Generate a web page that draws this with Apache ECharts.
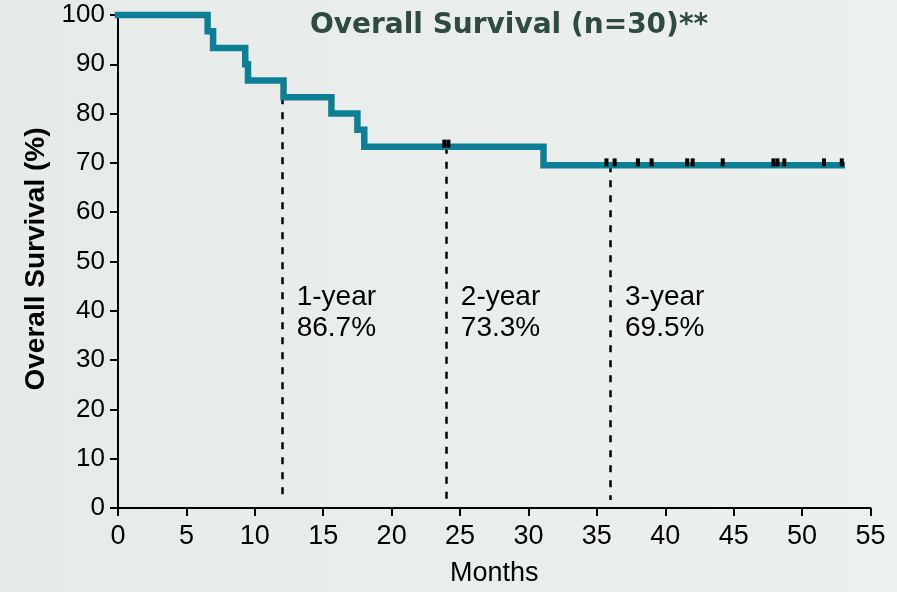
<!DOCTYPE html>
<html>
<head>
<meta charset="utf-8">
<script src="https://cdn.jsdelivr.net/npm/echarts@6/dist/echarts.min.js"></script>
<style>
html,body{margin:0;padding:0;}
#chart{width:897px;height:592px;}
</style>
</head>
<body>
<div id="chart"></div>
<script>
// Kaplan-Meier step curve (months, survival %)
var kmTimes = [0, 6.55, 6.95, 9.3, 9.5, 12.1, 15.6, 17.5, 18.0, 31.1, 52.9];
var kmSurv  = [100, 96.7, 93.3, 90.0, 86.7, 83.3, 80.0, 76.7, 73.3, 69.5, 69.5];

// Censored observations
var censorTimes = [23.85, 24.15, 35.7, 36.3, 38.0, 39.0, 41.6, 42.0, 44.2, 47.9, 48.2, 48.7, 51.6, 52.9];
var censorSurv  = [73.3, 73.3, 69.5, 69.5, 69.5, 69.5, 69.5, 69.5, 69.5, 69.5, 69.5, 69.5, 69.5, 69.5];

// Landmark estimates
var landmarkTimes = [12, 24, 36];
var landmarkSurv  = [83.3, 73.3, 69.5];
var landmarkNames = ['1-year', '2-year', '3-year'];
var landmarkText  = ['86.7%', '73.3%', '69.5%'];
var landmarkLabelY = 39.6;

var titleText = 'Overall Survival (n=30)**';
var xName = 'Months';
var yName = 'Overall Survival (%)';

var kmData = kmTimes.map(function (t, i) { return [t, kmSurv[i]]; });
var censorData = censorTimes.map(function (t, i) { return [t, censorSurv[i]]; });
var markLines = landmarkTimes.map(function (t, i) {
  return [{ coord: [t, landmarkSurv[i]] }, { coord: [t, 1.6] }];
});
var labelData = landmarkTimes.map(function (t, i) { return [t, landmarkLabelY]; });

var chart = echarts.init(document.getElementById('chart'));
var axisFont = 'Liberation Sans, Arial, sans-serif';
chart.setOption({
  backgroundColor: {
    type: 'linear', x: 0, y: 0, x2: 1, y2: 0,
    colorStops: [{ offset: 0, color: '#e6ebe9' }, { offset: 1, color: '#ecf0ef' }]
  },
  animation: false,
  title: {
    text: titleText,
    left: 305, top: 7,
    textStyle: { fontFamily: 'DejaVu Sans, sans-serif', fontWeight: 'bold', fontSize: 28, color: '#2e4a41' }
  },
  graphic: [{
    type: 'text',
    x: 36, y: 259,
    rotation: Math.PI / 2,
    style: {
      text: yName,
      font: 'bold 28px Liberation Sans, Arial, sans-serif',
      fill: '#000',
      align: 'center',
      verticalAlign: 'middle'
    }
  }],
  grid: { left: 118, right: 26.5, top: 15, bottom: 82 },
  xAxis: {
    type: 'value', min: 0, max: 55, interval: 5,
    name: xName, nameLocation: 'middle', nameGap: 52,
    nameTextStyle: { fontFamily: axisFont, fontSize: 27, color: '#000' },
    axisLine: { lineStyle: { color: '#000', width: 2 } },
    axisTick: { length: 8, lineStyle: { color: '#000', width: 2 } },
    axisLabel: { fontFamily: axisFont, fontSize: 27, color: '#000', margin: 15 },
    splitLine: { show: false }
  },
  yAxis: {
    type: 'value', min: 0, max: 100, interval: 10,
    axisLine: { show: true, lineStyle: { color: '#000', width: 2 } },
    axisTick: { show: true, length: 8, lineStyle: { color: '#000', width: 2 } },
    axisLabel: { fontFamily: axisFont, fontSize: 26, color: '#000', margin: 13 },
    splitLine: { show: false }
  },
  series: [
    {
      type: 'line',
      data: kmData,
      step: 'end',
      showSymbol: false,
      symbol: 'none',
      clip: false,
      z: 3,
      lineStyle: { color: '#0d7f95', width: 6.5, cap: 'square', join: 'miter' },
      markLine: {
        silent: true,
        symbol: ['none', 'none'],
        label: { show: false },
        lineStyle: { color: '#000', width: 2.5, type: [7, 8] },
        data: markLines,
        z: 2
      }
    },
    {
      type: 'scatter',
      data: censorData,
      symbol: 'rect',
      symbolSize: [4, 8],
      symbolOffset: [0, -3],
      clip: false,
      z: 5,
      itemStyle: { color: '#000', opacity: 1 }
    },
    {
      type: 'scatter',
      data: labelData,
      symbolSize: 1,
      itemStyle: { color: 'rgba(0,0,0,0)', opacity: 1 },
      z: 4,
      label: {
        show: true,
        position: 'right',
        distance: 14,
        align: 'left',
        verticalAlign: 'middle',
        fontFamily: axisFont,
        fontSize: 28,
        lineHeight: 31,
        color: '#000',
        opacity: 1,
        formatter: function (p) {
          return landmarkNames[p.dataIndex] + '\n' + landmarkText[p.dataIndex];
        }
      }
    }
  ]
});
</script>
</body>
</html>
